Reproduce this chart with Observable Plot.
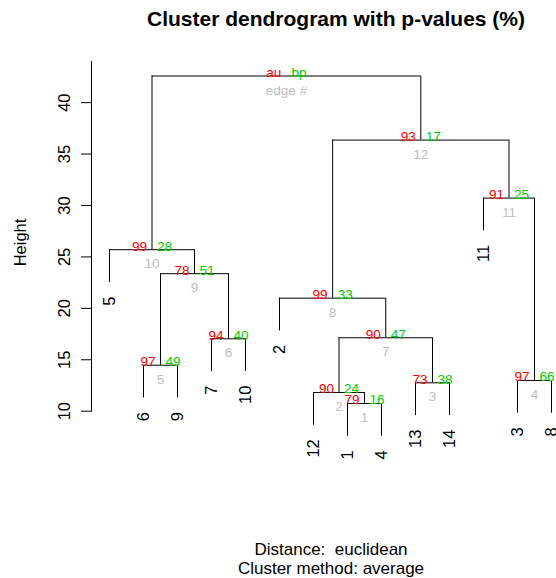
<!DOCTYPE html>
<html><head><meta charset="utf-8">
<script src="https://cdn.jsdelivr.net/npm/d3@7"></script>
<script src="https://cdn.jsdelivr.net/npm/@observablehq/plot@0.6"></script>
<style>
body{margin:0;background:#fff;font-family:"Liberation Sans",Arial,sans-serif;color:#000}
#wrap{position:relative;width:556px;height:578px;overflow:hidden;background:#fff}
#title{position:absolute;top:0;left:0;width:556px;height:40px}
#title span{position:absolute;left:336px;top:8px;transform:translateX(-50%);white-space:nowrap;font-weight:bold;font-size:21px;line-height:21px}
#chart{position:absolute;top:40px;left:0}
#cap{position:absolute;top:530px;left:0;width:556px;height:48px}
.capline{position:absolute;left:331px;transform:translateX(-50%);white-space:pre;font-size:17px;line-height:17px}
</style></head>
<body>
<div id="wrap">
  <div id="title"><span>Cluster dendrogram with p-values (%)</span></div>
  <div id="chart"></div>
  <div id="cap">
    <div class="capline" style="top:11px">Distance:  euclidean</div>
    <div class="capline" style="top:30px">Cluster method: average</div>
  </div>
</div>
<script>
// leaf labels in dendrogram order (left to right)
const leafOrder = ["5","6","9","7","10","2","12","1","4","13","14","11","3","8"];
// merges (edge 1..13): children are leaf labels or "eN" for edge N
const mergeLeft  = ["1","12","13","3","6","7","e2","2","e5","5","11","e8","e10"];
const mergeRight = ["4","e1","14","8","9","10","e3","e7","e6","e9","e4","e11","e12"];
const mergeHeight = [10.75,11.82,12.76,12.99,14.47,17.04,17.14,20.99,23.37,25.70,30.72,36.36,42.59];
// AU / BP p-values (%) for edges 1..12
const auValues = [79,90,73,97,97,94,90,99,78,99,91,93];
const bpValues = [16,24,38,66,49,40,47,33,51,28,25,17];
const yTicks = [10,15,20,25,30,35,40];

const auLabels = [...auValues.map(String), "au"];
const bpLabels = [...bpValues.map(String), "bp"];
const edgeLabels = [...mergeHeight.slice(0, -1).map((_, i) => String(i + 1)), "edge #"];

const hang = 0.1 * (d3.max(mergeHeight) - d3.min(mergeHeight));
const leafPos = new Map(leafOrder.map((l, i) => [l, i + 1]));
const nodes = [];
const pos = c => c.startsWith("e") ? nodes[+c.slice(1) - 1] : {x: leafPos.get(c), h: null, leaf: c};
const hLines = [], vLines = [], leafLabels = [], nodeLabels = [];
mergeLeft.forEach((l, i) => {
  const h = mergeHeight[i];
  const a = pos(l), b = pos(mergeRight[i]);
  const x = (a.x + b.x) / 2;
  nodes.push({x, h});
  hLines.push({x1: a.x, x2: b.x, y: h});
  for (const c of [a, b]) {
    const top = c.leaf ? h - hang : c.h;
    vLines.push({x: c.x, y1: top, y2: h});
    if (c.leaf) leafLabels.push({x: c.x, y: h - hang, label: c.leaf});
  }
  nodeLabels.push({x, y: h, au: auLabels[i], bp: bpLabels[i], edge: edgeLabels[i]});
});

const chart = Plot.plot({
  width: 556, height: 490,
  marginLeft: 91, marginRight: 5, marginTop: 21, marginBottom: 119.3,
  x: {domain: [1, 14], range: [109, 551], axis: null},
  y: {domain: [10, 44], axis: null, label: null},
  style: {fontFamily: "'Liberation Sans', Arial, sans-serif", fontSize: "16.5px", color: "#000", background: "#fff", overflow: "visible"},
  marks: [
    Plot.frame({anchor: "left", stroke: "#000"}),
    Plot.axisY({ticks: yTicks, tickSize: 10, tickPadding: 12, tickRotate: -90, fontSize: 16.5, label: null, stroke: "#000", fill: "#000"}),
    Plot.ruleY(hLines, {x1: "x1", x2: "x2", y: "y", stroke: "#000", strokeWidth: 1}),
    Plot.ruleX(vLines, {x: "x", y1: "y1", y2: "y2", stroke: "#000", strokeWidth: 1}),
    Plot.text(leafLabels, {x: "x", y: "y", text: "label", rotate: -90, textAnchor: "end", lineAnchor: "middle", dy: 14, fontSize: 16.5, fill: "#000"}),
    Plot.text(nodeLabels, {x: "x", y: "y", text: "au", fill: "#FF0000", textAnchor: "end", lineAnchor: "bottom", dx: -5, dy: 1, fontSize: 13.6}),
    Plot.text(nodeLabels, {x: "x", y: "y", text: "bp", fill: "#00CD00", textAnchor: "start", lineAnchor: "bottom", dx: 5, dy: 1, fontSize: 13.6}),
    Plot.text(nodeLabels, {x: "x", y: "y", text: "edge", fill: "#BEBEBE", textAnchor: "middle", lineAnchor: "top", dy: 9, fontSize: 13.6}),
    Plot.text(["Height"], {frameAnchor: "left", text: d => d, rotate: -90, dx: -71, dy: 30, fontSize: 16.5, fill: "#000"})
  ]
});
document.getElementById("chart").appendChild(chart);
</script>
</body></html>
